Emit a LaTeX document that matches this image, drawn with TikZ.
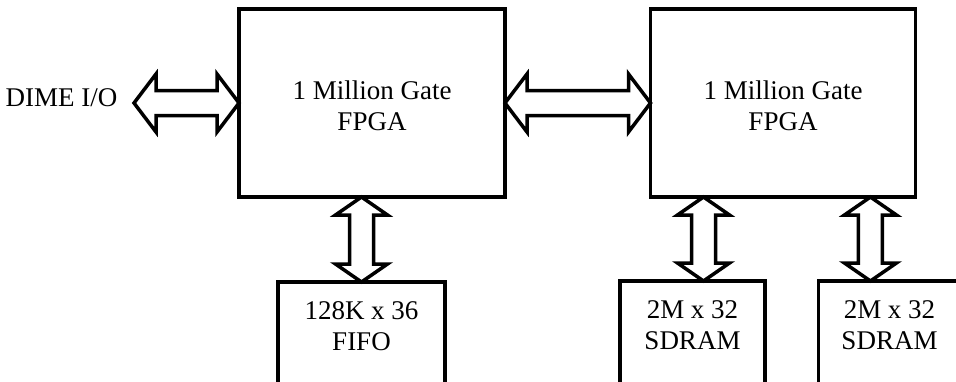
\documentclass[tikz,border=0pt]{standalone}
\usepackage{fontspec}
\setmainfont{Liberation Serif}
\usepackage{tikz}
\usetikzlibrary{positioning}
\usetikzlibrary{calc}

% sizes of the bus arrows (pt)
\def\hhl{22}  \def\hhw{29}  \def\hsw{12.5}
\def\vhl{18}  \def\vhw{26}  \def\vsw{12}

% horizontal bus arrow from #1 (left tip) to #2 (right tip)
\newcommand{\hbus}[2]{%
  \draw[bus] (#1) -- ++(\hhl,\hhw) -- ++(0,\hsw-\hhw) -- ($(#2)+(-\hhl,\hsw)$)
    -- ++(0,\hhw-\hsw) -- (#2) -- ++(-\hhl,-\hhw) -- ++(0,\hhw-\hsw)
    -- ($(#1)+(\hhl,-\hsw)$) -- ++(0,\hsw-\hhw) -- cycle;}
% vertical bus arrow from #1 (top tip) to #2 (bottom tip)
\newcommand{\vbus}[2]{%
  \draw[bus] (#1) -- ++(\vhw,-\vhl) -- ++(\vsw-\vhw,0) -- ($(#2)+(\vsw,\vhl)$)
    -- ++(\vhw-\vsw,0) -- (#2) -- ++(-\vhw,\vhl) -- ++(\vhw-\vsw,0)
    -- ($(#1)+(-\vsw,-\vhl)$) -- ++(\vsw-\vhw,0) -- cycle;}

\tikzset{
  chipbox/.style={draw, line width=3.5pt, outer sep=0pt, inner sep=0pt,
    minimum width=266pt, minimum height=188pt},
  membox/.style={draw, line width=3.5pt, outer sep=0pt, inner sep=0pt,
    minimum height=150pt, anchor=north},
  lbl/.style={inner sep=0pt, align=center, font=\fontsize{27}{31}\selectfont},
  bus/.style={draw, line width=3.5pt, fill=white}
}

\begin{document}
\begin{tikzpicture}[x=1pt, y=1pt]
  \useasboundingbox (0,0) rectangle (956,-381);

  % FPGA boxes
  \node[chipbox] (fpgaA) at (372,-103) {};
  \node[chipbox, minimum width=265pt] (fpgaB) at (783,-103) {};
  \node[lbl, below=71.5pt of fpgaA.north] (fpgaAtext) {1 Million Gate\\FPGA};
  \node[lbl, below=71.5pt of fpgaB.north] (fpgaBtext) {1 Million Gate\\FPGA};

  % Memory boxes
  \node[membox, minimum width=167pt] (fifo) at (361.5,-282) {};
  \node[membox, minimum width=145pt] (sdramA) at (692.5,-281) {};
  \node[membox, minimum width=142pt] (sdramB) at (889.5,-281) {};
  \node[lbl, below=19pt of fifo.north] (fifotext) {128K x 36\\FIFO};
  \node[lbl, below=19pt of sdramA.north] (sdramAtext) {2M x 32\\SDRAM};
  \node[lbl, below=19pt of sdramB.north] (sdramBtext) {2M x 32\\SDRAM};

  % I/O label
  \node[lbl, anchor=base] (dime) at (61.5,-106) {DIME I/O};
  \coordinate (dimeio) at (134,-103);

  % Bus end points
  \coordinate (fifobus) at (fpgaA.south -| fifo.north);
  \coordinate (sdramAbus) at ($(fpgaB.south west)!0.2!(fpgaB.south east)$);
  \coordinate (sdramBbus) at ($(fpgaB.south west)!0.83!(fpgaB.south east)$);
  \coordinate (sdramAtop) at (sdramAbus |- sdramA.north);
  \coordinate (sdramBtop) at (sdramBbus |- sdramB.north);

  % Draw the bus arrows
  \hbus{dimeio}{fpgaA.west}
  \hbus{fpgaA.east}{fpgaB.west}
  \vbus{fifobus}{fifo.north}
  \vbus{sdramAbus}{sdramAtop}
  \vbus{sdramBbus}{sdramBtop}
\end{tikzpicture}
\end{document}
